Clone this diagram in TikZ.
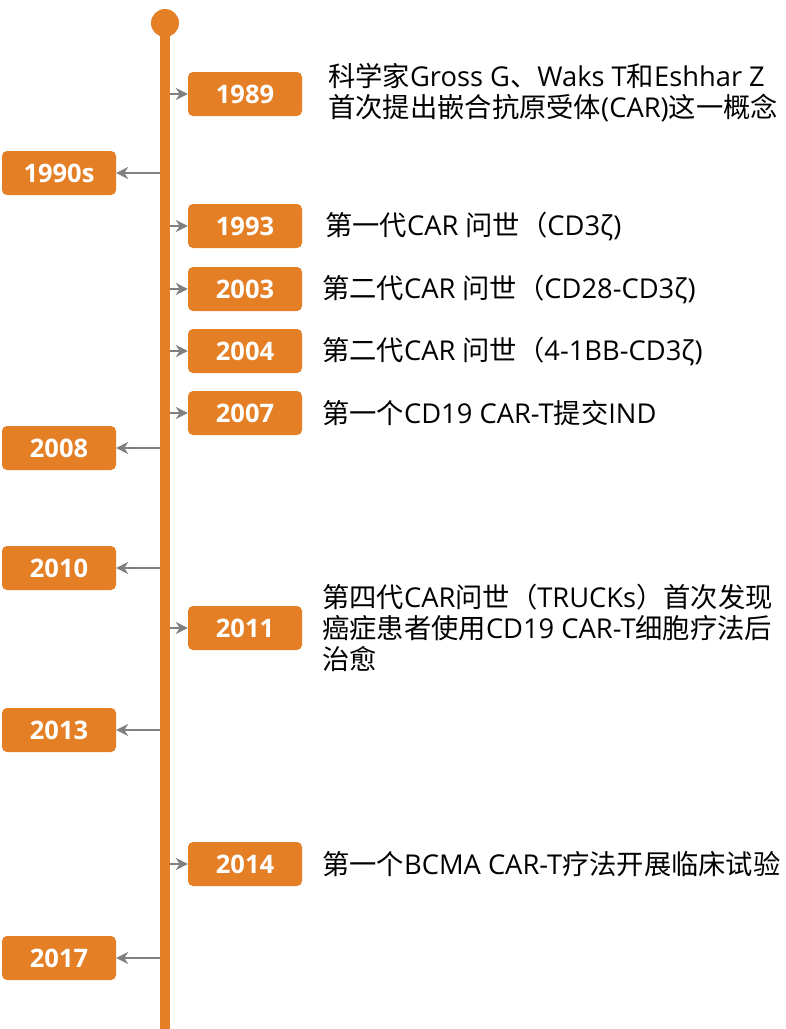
\documentclass[tikz,border=0pt]{standalone}
\usepackage{fontspec}
\setmainfont{Open Sans}
\newfontfamily\cjk{Noto Sans CJK SC}
\usetikzlibrary{arrows.meta}
\definecolor{org}{HTML}{E47F26}
\definecolor{arr}{HTML}{808080}
\newcommand{\zh}[1]{{\cjk #1}}
\tikzset{
  yearbox/.style={fill=org, rounded corners=5pt, minimum width=114pt, minimum height=44pt, inner sep=0pt, text=white, font=\fontsize{25.5}{28}\selectfont\bfseries},
  conn/.style={draw=arr, line width=2pt, -{Stealth[length=12pt,width=12pt]}},
  desc/.style={anchor=west, align=left, inner sep=0pt, font=\fontsize{27.3}{31}\selectfont}
}
\begin{document}
\begin{tikzpicture}[x=1pt,y=-1pt]
\useasboundingbox (0,0) rectangle (786,1029);
\fill[white] (0,0) rectangle (786,1029);
% axis
\fill[org] (160,30) rectangle (170,1029);
\fill[org] (165,23) circle (14);
\coordinate (axR) at (170,0);
\coordinate (axL) at (160,0);
% right boxes
\node[yearbox] (y1989) at (245,94) {1989};
\node[yearbox] (y1993) at (245,226) {1993};
\node[yearbox] (y2003) at (245,289) {2003};
\node[yearbox] (y2004) at (245,351) {2004};
\node[yearbox] (y2007) at (245,413) {2007};
\node[yearbox] (y2011) at (245,628) {2011};
\node[yearbox] (y2014) at (245,864) {2014};
% left boxes
\node[yearbox] (y1990s) at (59,173) {1990s};
\node[yearbox] (y2008) at (59,448) {2008};
\node[yearbox] (y2010) at (59,568) {2010};
\node[yearbox] (y2013) at (59,730) {2013};
\node[yearbox] (y2017) at (59,958) {2017};
% connectors
\foreach \n in {y1989,y1993,y2003,y2004,y2007,y2011,y2014}
  \draw[conn] (axR |- \n.west) -- (\n.west);
\foreach \n in {y1990s,y2008,y2010,y2013,y2017}
  \draw[conn] (axL |- \n.east) -- (\n.east);
% descriptions
\node[desc] (d1989) at (328,93) {\zh{科学家}Gross G\zh{、}Waks T\zh{和}Eshhar Z\\\zh{首次提出嵌合抗原受体}(CAR)\zh{这一概念}};
\node[desc] (d1993) at (325,226) {\zh{第一代}CAR \zh{问世（}CD3ζ)};
\node[desc] (d2003) at (322,289) {\zh{第二代}CAR \zh{问世（}CD28-CD3ζ)};
\node[desc] (d2004) at (322,351) {\zh{第二代}CAR \zh{问世（}4-1BB-CD3ζ)};
\node[desc] (d2007) at (322,413) {\zh{第一个}CD19 CAR-T\zh{提交}IND};
\node[desc] (d2011) at (322,628) {\zh{第四代}CAR\zh{问世（}TRUCKs\zh{）首次发现}\\\zh{癌症患者使用}CD19 CAR-T\zh{细胞疗法后}\\\zh{治愈}};
\node[desc] (d2014) at (322,864) {\zh{第一个}BCMA CAR-T\zh{疗法开展临床试验}};
\end{tikzpicture}
\end{document}
